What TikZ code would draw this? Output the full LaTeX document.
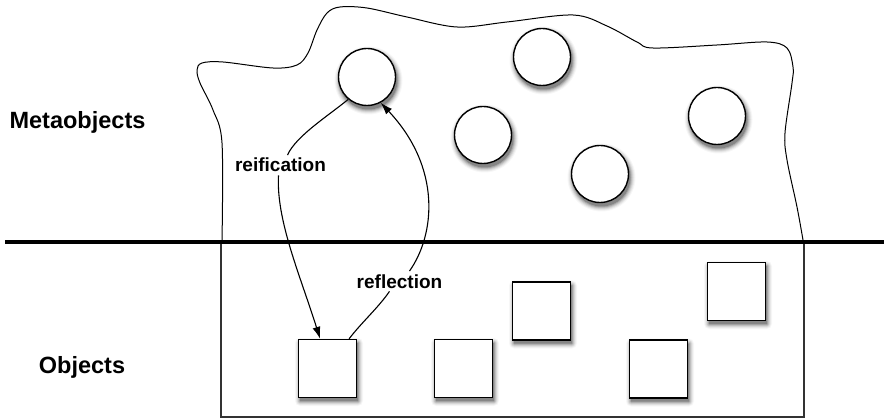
\documentclass[tikz,border=0pt]{standalone}
\usepackage{fontspec}
\setmainfont{Liberation Sans}
\usetikzlibrary{arrows.meta,calc}
\pgfdeclarelayer{bg}
\pgfsetlayers{bg,main}
\tikzset{
  meta/.style={circle,draw,line width=1.4pt,fill=white,minimum size=57pt,inner sep=0pt},
  obj/.style={rectangle,draw,line width=1.4pt,fill=white,minimum size=58pt,inner sep=0pt},
  side/.style={font=\fontsize{23.5}{24}\selectfont\bfseries,anchor=base,inner sep=0pt},
  lbl/.style={font=\fontsize{19}{20}\selectfont\bfseries,anchor=base,inner sep=3pt},
  arr/.style={line width=1.1pt,-{Latex[length=12pt,width=8pt]}},
  plain/.style={line width=1.1pt}
}
\begin{document}
\begin{tikzpicture}[x=1pt,y=-1pt]
\useasboundingbox (0,0) rectangle (885,419);
% blob (metaobject space)
\draw[line width=1pt] plot[smooth,tension=0.55] coordinates {
 (222,242) (222,143) (213,110) (200,83) (197,70) (202,63) (223,62) (273,68) (297,65) (308,53)
 (317,30) (327,13) (340,7) (367,8) (407,17) (457,27) (507,22) (573,15) (607,26) (637,42)
 (653,48) (717,45) (767,42) (787,48) (793,67) (792,83) (785,133) (787,160) (797,207) (803,240)};
% object space
\draw[line width=1.1pt,draw=black!80] (221,242) rectangle (804,417);
\draw[line width=4.5pt] (5,242) -- (884,242);
% metaobjects
\node[meta] (c1) at (367,77) {};
\node[meta] (c2) at (542,57) {};
\node[meta] (c3) at (483,135) {};
\node[meta] (c4) at (600,174) {};
\node[meta] (c5) at (717,116) {};
% objects
\node[obj] (s1) at (327.5,368.5) {};
\node[obj] (s2) at (463.5,368.5) {};
\node[obj] (s3) at (541.5,311) {};
\node[obj] (s4) at (736.5,291.5) {};
\node[obj] (s5) at (658.5,369) {};
% soft shadows
\begin{pgfonlayer}{bg}
\foreach \n in {c1,c2,c3,c4,c5}
  \foreach \r/\o in {34/0.03,33/0.05,32/0.07,31/0.1,30/0.14,29/0.2}
    \fill[black,opacity=\o] ($(\n)+(1.5,3.5)$) circle (\r pt);
\foreach \n in {s1,s2,s3,s4,s5}
  \foreach \d/\c/\o in {34/5/0.03,33/4/0.05,32/3/0.07,31/2/0.1,30/1/0.14,29/0.1/0.2}
    \fill[black,opacity=\o,rounded corners=\c pt] ($(\n)+(1.5,3.5)+(-\d,-\d)$) rectangle ($(\n)+(1.5,3.5)+(\d,\d)$);
\end{pgfonlayer}
% labels
\node[side] (meta) at (77.5,129) {Metaobjects};
\node[side] (objs) at (82,373) {Objects};
\node[lbl] (reif) at (280.5,172) {reification};
\node[lbl] (refl) at (399.5,288) {reflection};
% reification
\draw[plain] (c1.230) .. controls (328,116) and (296,136) .. ([xshift=7pt]reif.north);
\draw[arr] ([xshift=-2pt]reif.south) .. controls (276,220) and (300,275) .. (s1.104);
% reflection
\draw[plain] (s1.54) .. controls (362,322) and (378,308) .. ([xshift=-10pt]refl.south);
\draw[arr] ([xshift=10pt]refl.north) .. controls (435,235) and (442,168) .. (c1.298);
\end{tikzpicture}
\end{document}
